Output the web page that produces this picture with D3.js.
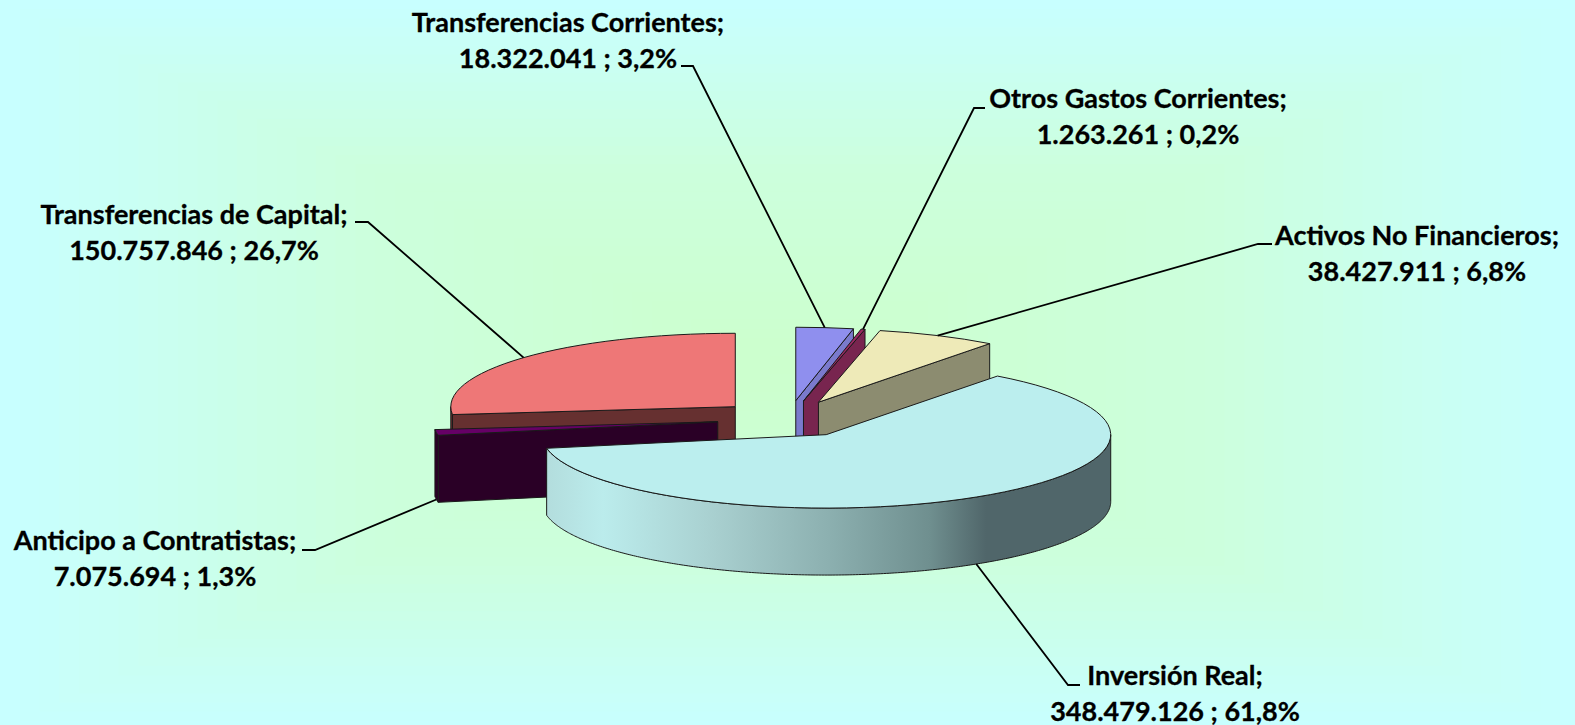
<!DOCTYPE html>
<html>
<head>
<meta charset="utf-8">
<style>
    html, body { margin: 0; padding: 0; background: #c8ffff; }
    svg { display: block; }
    text { font-family: Lato, "Noto Sans", sans-serif; font-weight: 700; font-size: 27px; fill: #000; stroke: #000; stroke-width: 0.3px; }
</style>
</head>
<body>
<script src="https://cdn.jsdelivr.net/npm/d3@7/dist/d3.min.js"></script>
<script>

    const categories = ["Transferencias Corrientes", "Otros Gastos Corrientes", "Activos No Financieros",
                        "Inversión Real", "Anticipo a Contratistas", "Transferencias de Capital"];
    const values = [18322041, 1263261, 38427911, 348479126, 7075694, 150757846];

    const topColors = ["#8f8fee", "#99285f", "#eeeab8", "#bbeeee", "#660066", "#ee7777"];
    const wallColors = ["#7a7acc", "#78254f", "#8c8c70", "#50666a", "#2a0026", "#663030"];

    // label centre x, first baseline y, then the elbow of the leader line and the end of its stub
    const labelX = [568, 1138, 1417, 1175, 155, 194];
    const labelY = [32, 108, 245, 685, 550, 224];
    const stubEnd = [681, 985, 1272, 1080, 302, 355];
    const stubElbow = [693, 974, 1258, 1068, 315, 368];
    const stubY = [66, 108, 244, 685, 550, 222];

    const width = 1575, height = 725;
    const cx = 788.5, cy = 419,
          radius = 284.5, tilt = 0.258, depth = 67, explode = 71.5;

    const svg = d3.select("body").append("svg")
        .attr("width", width)
        .attr("height", height);

    const defs = svg.append("defs");

    // background: rectangular gradient from the middle, like the office fill
    const bg = d3.scaleLinear().domain([0, 0.55, 1]).range(["#ccffcc", "#ccffdd", "#c8ffff"]);
    d3.range(40, 0, -1).forEach(i => {
        const t = i / 40;
        svg.append("rect")
            .attr("x", 790 - 790 * t)
            .attr("y", 365 - 365 * t)
            .attr("width", 1580 * t)
            .attr("height", 730 * t)
            .attr("fill", bg(t));
    });

    const grad = defs.append("linearGradient")
        .attr("id", "wallGrad")
        .attr("gradientUnits", "userSpaceOnUse")
        .attr("x1", 547).attr("x2", 1110).attr("y1", 0).attr("y2", 0);
    [[0, "#b3dddd"], [0.1, "#bbecec"], [0.3, "#a8cfcf"], [0.5, "#8cb0b0"], [0.68, "#6f8f8f"], [0.78, "#50666a"], [1, "#50666a"]]
        .forEach(s => grad.append("stop").attr("offset", s[0]).attr("stop-color", s[1]));

    const total = d3.sum(values);
    const locale = d3.formatLocale({ decimal: ",", thousands: ".", grouping: [3], currency: ["", ""] });
    const fmtValue = locale.format(",d"), fmtPct = locale.format(".1%");

    const slices = d3.pie().sort(null).value(d => d)(values);

    // pie plane -> screen
    const px = (a, r) => r * Math.sin(a);
    const py = (a, r) => -r * tilt * Math.cos(a);

    slices.forEach(s => {
        s.mid = (s.startAngle + s.endAngle) / 2;
        s.ax = cx + px(s.mid, explode);
        s.ay = cy + py(s.mid, explode);
    });

    const line = d3.line();

    function rimPoints(s, a0, a1, dy) {
        const n = Math.max(2, Math.ceil((a1 - a0) / 0.01));
        return d3.range(n + 1).map(i => {
            const a = a0 + (a1 - a0) * i / n;
            return [s.ax + px(a, radius), s.ay + py(a, radius) + dy];
        });
    }

    const arc = d3.arc().innerRadius(0).outerRadius(radius);

    // painter's order: back slices first, the big front slice last
    const order = [5, 4, 0, 1, 2, 3];

    order.forEach(i => {
        const s = slices[i];
        const g = svg.append("g").attr("class", "slice");

        // radial walls that face the viewer
        [s.startAngle, s.endAngle].forEach(a => {
            const sideSign = a === s.startAngle ? -1 : 1;
            if (sideSign * Math.sin(a) <= 0.001) return;
            const x1 = s.ax + px(a, radius), y1 = s.ay + py(a, radius);
            g.append("path")
                .attr("d", line([[s.ax, s.ay], [x1, y1], [x1, y1 + depth], [s.ax, s.ay + depth]]) + "Z")
                .attr("fill", wallColors[i])
                .attr("stroke", "#1a1a1a").attr("stroke-width", 1);
        });

        // outer wall, front half of the circle only
        const a0 = Math.max(s.startAngle, Math.PI / 2), a1 = Math.min(s.endAngle, Math.PI * 1.5);
        if (a1 > a0) {
            const pts = rimPoints(s, a0, a1, 0).concat(rimPoints(s, a0, a1, depth).reverse());
            g.append("path")
                .attr("d", line(pts) + "Z")
                .attr("fill", i === 3 ? "url(#wallGrad)" : wallColors[i])
                .attr("stroke", "#1a1a1a").attr("stroke-width", 1);
        }

        // top face: a plain d3 arc squashed into the tilted plane
        g.append("path")
            .attr("transform", `translate(${s.ax},${s.ay}) scale(1,${tilt})`)
            .attr("d", arc(s))
            .attr("fill", topColors[i])
            .attr("stroke", "#1a1a1a").attr("stroke-width", 1)
            .attr("vector-effect", "non-scaling-stroke");
    });

    // leader lines and labels
    slices.forEach((s, i) => {
        const front = Math.cos(s.mid) < 0;
        const ex = s.ax + px(s.mid, radius),
              ey = s.ay + py(s.mid, radius) + (front ? depth : 0);
        svg.append("path")
            .attr("d", line([[stubEnd[i], stubY[i]], [stubElbow[i], stubY[i]], [ex, ey]]))
            .attr("fill", "none")
            .attr("stroke", "#000").attr("stroke-width", 1.8);

        const t = svg.append("text").attr("text-anchor", "middle");
        t.append("tspan").attr("x", labelX[i]).attr("y", labelY[i]).text(categories[i] + ";");
        t.append("tspan").attr("x", labelX[i]).attr("y", labelY[i] + 36)
            .text(fmtValue(values[i]) + " ; " + fmtPct(values[i] / total));
    });
</script>
</body>
</html>
